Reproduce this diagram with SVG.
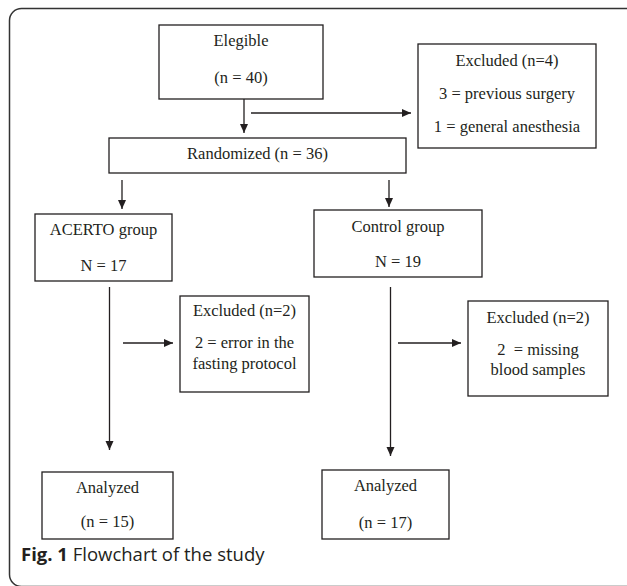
<svg xmlns="http://www.w3.org/2000/svg" width="627" height="586" viewBox="0 0 627 586">
<style>
.box{fill:#fff;stroke:#231f20;stroke-width:1.3}
.t{font-family:"Liberation Serif","Times New Roman",serif;font-size:16.5px;fill:#231f20;text-anchor:middle;white-space:pre}
.ln{stroke:#231f20;stroke-width:1.3;fill:none}
.cap{font-family:"Open Sans","Liberation Sans",sans-serif;font-size:18.5px;fill:#231f20}
</style>
<defs>
<marker id="ah" markerUnits="userSpaceOnUse" markerWidth="10" markerHeight="10" viewBox="0 0 10 8" refX="9" refY="4" orient="auto">
<path d="M0,0 L9,4 L0,8 Z" fill="#231f20"/>
</marker>
</defs>
<rect x="9.5" y="8.5" width="640" height="578" rx="12" fill="#fff" stroke="#333" stroke-width="1.5"/>
<g id="connectors">
<line class="ln" x1="244" y1="99" x2="244" y2="133" marker-end="url(#ah)"/>
<line class="ln" x1="251" y1="113" x2="411" y2="113" marker-end="url(#ah)"/>
<line class="ln" x1="122" y1="180" x2="122" y2="209" marker-end="url(#ah)"/>
<line class="ln" x1="389" y1="180" x2="389" y2="207" marker-end="url(#ah)"/>
<line class="ln" x1="109.5" y1="287" x2="109.5" y2="450" marker-end="url(#ah)"/>
<line class="ln" x1="390.5" y1="287" x2="390.5" y2="456" marker-end="url(#ah)"/>
<line class="ln" x1="123" y1="343" x2="173" y2="343" marker-end="url(#ah)"/>
<line class="ln" x1="398" y1="343" x2="461" y2="343" marker-end="url(#ah)"/>
</g>
<g id="elegible">
<rect class="box" x="159" y="25" width="164" height="74"/>
<text class="t" x="241" y="46">Elegible</text>
<text class="t" x="241" y="83">(n = 40)</text>
</g>
<g id="excluded1">
<rect class="box" x="418" y="44" width="178" height="104"/>
<text class="t" x="507" y="66">Excluded (n=4)</text>
<text class="t" x="507" y="99">3 = previous surgery</text>
<text class="t" x="507" y="132">1 = general anesthesia</text>
</g>
<g id="randomized">
<rect class="box" x="109" y="138" width="297" height="35"/>
<text class="t" x="257.5" y="159">Randomized (n = 36)</text>
</g>
<g id="acerto">
<rect class="box" x="35" y="214" width="137" height="67"/>
<text class="t" x="103.5" y="235">ACERTO group</text>
<text class="t" x="103.5" y="271">N = 17</text>
</g>
<g id="control">
<rect class="box" x="314" y="210" width="168" height="67"/>
<text class="t" x="398" y="232">Control group</text>
<text class="t" x="398" y="267">N = 19</text>
</g>
<g id="excluded2">
<rect class="box" x="180" y="296" width="129" height="96"/>
<text class="t" x="244.5" y="316">Excluded (n=2)</text>
<text class="t" x="244.5" y="348">2 = error in the</text>
<text class="t" x="244.5" y="369">fasting protocol</text>
</g>
<g id="excluded3">
<rect class="box" x="468" y="301" width="140" height="95"/>
<text class="t" x="538" y="323">Excluded (n=2)</text>
<text class="t" x="538" y="355">2  = missing</text>
<text class="t" x="538" y="375">blood samples</text>
</g>
<g id="analyzed1">
<rect class="box" x="42" y="472" width="131" height="67"/>
<text class="t" x="107.5" y="493">Analyzed</text>
<text class="t" x="107.5" y="527">(n = 15)</text>
</g>
<g id="analyzed2">
<rect class="box" x="322" y="470" width="127" height="69"/>
<text class="t" x="385.5" y="491">Analyzed</text>
<text class="t" x="385.5" y="528">(n = 17)</text>
</g>
<text class="cap" x="21" y="561"><tspan font-weight="bold">Fig. 1</tspan> Flowchart of the study</text>
</svg>
